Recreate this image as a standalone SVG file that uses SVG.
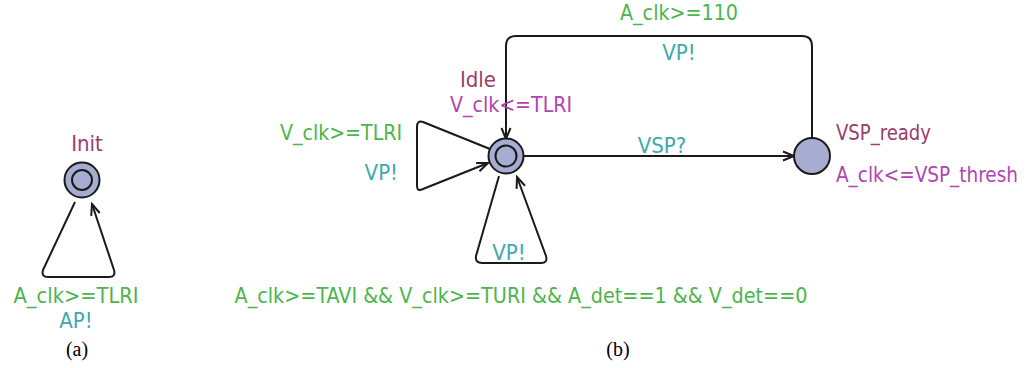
<svg xmlns="http://www.w3.org/2000/svg" width="1030" height="368" viewBox="0 0 1030 368">
<style>
.loc{fill:#a7add0;stroke:#1a1a1a;stroke-width:2}
.inner{fill:none;stroke:#1a1a1a;stroke-width:2}
.edge{fill:none;stroke:#1a1a1a;stroke-width:2;stroke-linejoin:round}
text{font-family:"DejaVu Sans Condensed","DejaVu Sans",sans-serif;font-size:22px}
.name{fill:#9a3d6c}
.inv{fill:#b044b4}
.guard{fill:#4cb54c}
.sync{fill:#3fa8b0}
.cap{font-family:"Liberation Serif",serif;font-size:20px;fill:#000}
</style>
<defs>
<marker id="arr" markerUnits="userSpaceOnUse" markerWidth="14" markerHeight="14" refX="12" refY="6" orient="auto" viewBox="0 0 14 12">
<path d="M1,1.5 L12,6 L1,10.5" fill="none" stroke="#1a1a1a" stroke-width="2"/>
</marker>
</defs>
<g id="connectors">
<path id="e-init-loop" class="edge" d="M75,202 L43,270 Q41,277 48,277 L109,277 Q116,277 114,270 L92,204" marker-end="url(#arr)"/>
<path id="e-idle-left" class="edge" d="M490,149 L423,122 Q417,120 417,127 L417,186 Q417,192 423,189 L488,163" marker-end="url(#arr)"/>
<path id="e-idle-bottom" class="edge" d="M499,176 L476,256 Q475,263 482,263 L541,263 Q548,263 546,256 L517,177" marker-end="url(#arr)"/>
<path id="e-idle-vsp" class="edge" d="M524,156 L794,156" marker-end="url(#arr)"/>
<path id="e-vsp-idle" class="edge" d="M812,138 L812,46 Q812,36 802,36 L516,36 Q506,36 506,46 L506,139" marker-end="url(#arr)"/>
</g>
<g id="init">
<circle class="loc" cx="82" cy="180" r="17.5"/>
<circle class="inner" cx="82" cy="180" r="10"/>
<text class="name" x="87" y="151" text-anchor="middle">Init</text>
</g>
<g id="idle">
<circle class="loc" cx="506" cy="156" r="17.5"/>
<circle class="inner" cx="506" cy="156" r="10.5"/>
<text class="name" x="478" y="87" text-anchor="middle">Idle</text>
<text class="inv" x="511" y="112" text-anchor="middle" textLength="122" lengthAdjust="spacingAndGlyphs">V_clk&lt;=TLRI</text>
</g>
<g id="vsp_ready">
<circle class="loc" cx="812" cy="156" r="18"/>
<text class="name" x="836" y="140" textLength="95" lengthAdjust="spacingAndGlyphs">VSP_ready</text>
<text class="inv" x="836" y="182" textLength="182" lengthAdjust="spacingAndGlyphs">A_clk&lt;=VSP_thresh</text>
</g>
<g id="labels">
<text class="guard" x="76" y="303" text-anchor="middle" textLength="125" lengthAdjust="spacingAndGlyphs">A_clk&gt;=TLRI</text>
<text class="sync" x="76" y="328" text-anchor="middle">AP!</text>
<text class="guard" x="402" y="140" text-anchor="end" textLength="122" lengthAdjust="spacingAndGlyphs">V_clk&gt;=TLRI</text>
<text class="sync" x="398" y="180" text-anchor="end">VP!</text>
<text class="sync" x="509" y="260" text-anchor="middle">VP!</text>
<text class="guard" x="679" y="20" text-anchor="middle" textLength="118" lengthAdjust="spacingAndGlyphs">A_clk&gt;=110</text>
<text class="sync" x="679" y="60" text-anchor="middle">VP!</text>
<text class="sync" x="662" y="153" text-anchor="middle">VSP?</text>
<text class="guard" x="521" y="303" text-anchor="middle" textLength="573" lengthAdjust="spacingAndGlyphs">A_clk&gt;=TAVI &amp;&amp; V_clk&gt;=TURI &amp;&amp; A_det==1 &amp;&amp; V_det==0</text>
<text class="cap" x="77" y="356" text-anchor="middle">(a)</text>
<text class="cap" x="618" y="356" text-anchor="middle">(b)</text>
</g>
</svg>
